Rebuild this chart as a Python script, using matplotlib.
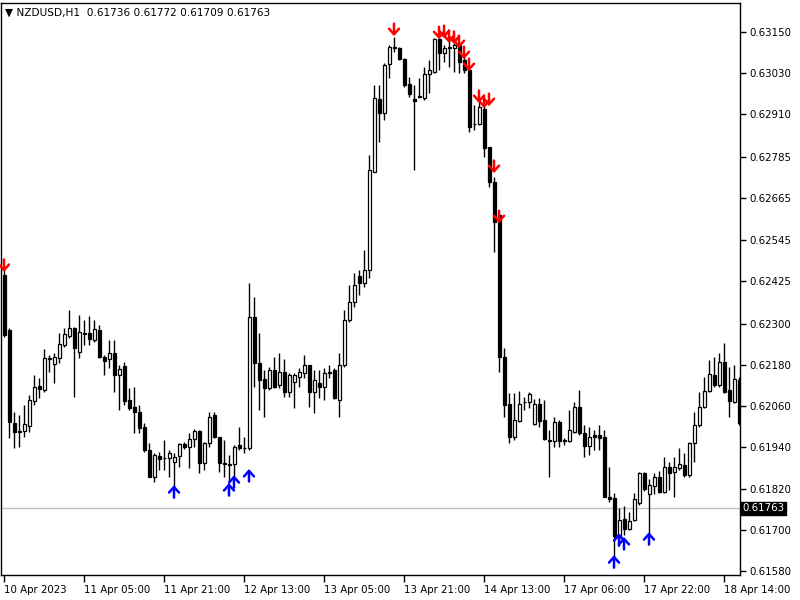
# -*- coding: utf-8 -*-
import matplotlib
matplotlib.use('Agg')
import matplotlib.pyplot as plt
from matplotlib.transforms import blended_transform_factory

# NZDUSD H1 candles
opens = [0.62442, 0.62282, 0.62011, 0.61988, 0.61988, 0.62002, 0.62075, 0.62119, 0.62107, 0.62200,
         0.62183, 0.62200, 0.62238, 0.62264, 0.62288, 0.62218, 0.62273, 0.62273, 0.62253, 0.62282,
         0.62203, 0.62197, 0.62215, 0.62151, 0.62177, 0.62078, 0.62057, 0.62043, 0.61999, 0.61932,
         0.61853, 0.61915, 0.61909, 0.61909, 0.61897, 0.61915, 0.61950, 0.61941, 0.61964, 0.61988,
         0.61894, 0.61953, 0.62034, 0.61970, 0.61894, 0.61891, 0.61891, 0.61947, 0.61938, 0.61938,
         0.62320, 0.62186, 0.62139, 0.62113, 0.62165, 0.62122, 0.62159, 0.62101, 0.62130, 0.62145,
         0.62156, 0.62180, 0.62101, 0.62127, 0.62116, 0.62159, 0.62165, 0.62078, 0.62180, 0.62311,
         0.62363, 0.62439, 0.62419, 0.62457, 0.62742, 0.62955, 0.62914, 0.63057, 0.63106, 0.63103,
         0.63071, 0.62998, 0.62955, 0.62963, 0.62958, 0.63027, 0.63033, 0.63129, 0.63089, 0.63106,
         0.63103, 0.63112, 0.63068, 0.63039, 0.62882, 0.62882, 0.62925, 0.62815, 0.62713, 0.62617,
         0.62203, 0.62066, 0.61970, 0.62017, 0.62072, 0.62072, 0.62008, 0.62066, 0.62020, 0.61961,
         0.61958, 0.62014, 0.61961, 0.61958, 0.61985, 0.62057, 0.61982, 0.61944, 0.61976, 0.61976,
         0.61970, 0.61795, 0.61792, 0.61682, 0.61731, 0.61702, 0.61728, 0.61778, 0.61865, 0.61804,
         0.61827, 0.61853, 0.61810, 0.61883, 0.61868, 0.61880, 0.61889, 0.61859, 0.61953, 0.62005,
         0.62057, 0.62104, 0.62151, 0.62122, 0.62189, 0.62107, 0.62072, 0.62136]
highs = [0.62457, 0.62288, 0.62043, 0.62034, 0.62063, 0.62092, 0.62151, 0.62142, 0.62226, 0.62209,
         0.62215, 0.62273, 0.62288, 0.62340, 0.62290, 0.62325, 0.62311, 0.62322, 0.62311, 0.62296,
         0.62209, 0.62253, 0.62253, 0.62180, 0.62189, 0.62113, 0.62116, 0.62063, 0.62011, 0.61953,
         0.61923, 0.61926, 0.61961, 0.61932, 0.61923, 0.61953, 0.61955, 0.61982, 0.61993, 0.61990,
         0.61955, 0.62043, 0.62043, 0.61970, 0.61961, 0.61918, 0.61947, 0.61999, 0.61970, 0.62419,
         0.62378, 0.62273, 0.62165, 0.62174, 0.62203, 0.62215, 0.62197, 0.62156, 0.62156, 0.62171,
         0.62209, 0.62180, 0.62165, 0.62165, 0.62171, 0.62180, 0.62171, 0.62215, 0.62340, 0.62413,
         0.62448, 0.62457, 0.62515, 0.62792, 0.62995, 0.62995, 0.63060, 0.63112, 0.63135, 0.63106,
         0.63074, 0.63019, 0.62995, 0.63016, 0.63048, 0.63068, 0.63132, 0.63132, 0.63112, 0.63127,
         0.63118, 0.63112, 0.63083, 0.63048, 0.62937, 0.62946, 0.62937, 0.62815, 0.62727, 0.62623,
         0.62229, 0.62098, 0.62098, 0.62104, 0.62087, 0.62101, 0.62081, 0.62084, 0.62078, 0.61990,
         0.62028, 0.62020, 0.61967, 0.62049, 0.62072, 0.62107, 0.62005, 0.61999, 0.61990, 0.62005,
         0.61990, 0.61883, 0.61807, 0.61763, 0.61769, 0.61752, 0.61807, 0.61868, 0.61868, 0.61848,
         0.61865, 0.61871, 0.61912, 0.61897, 0.61912, 0.61938, 0.61923, 0.61955, 0.62043, 0.62101,
         0.62145, 0.62194, 0.62203, 0.62215, 0.62244, 0.62174, 0.62180, 0.62145]
lows = [0.62261, 0.61967, 0.61938, 0.61941, 0.61970, 0.61985, 0.62063, 0.62084, 0.62101, 0.62159,
        0.62127, 0.62186, 0.62232, 0.62258, 0.62087, 0.62200, 0.62238, 0.62238, 0.62247, 0.62200,
        0.62151, 0.62171, 0.62101, 0.62049, 0.62063, 0.62049, 0.61982, 0.61982, 0.61926, 0.61853,
        0.61839, 0.61874, 0.61874, 0.61853, 0.61816, 0.61883, 0.61935, 0.61880, 0.61941, 0.61865,
        0.61874, 0.61941, 0.61967, 0.61868, 0.61853, 0.61836, 0.61853, 0.61932, 0.61923, 0.61932,
        0.62116, 0.62049, 0.62028, 0.62107, 0.62113, 0.62113, 0.62087, 0.62087, 0.62055, 0.62116,
        0.62142, 0.62057, 0.62040, 0.62084, 0.62078, 0.62142, 0.62082, 0.62028, 0.62174, 0.62305,
        0.62349, 0.62384, 0.62407, 0.62433, 0.62741, 0.62829, 0.62893, 0.63016, 0.63092, 0.63068,
        0.62990, 0.62960, 0.62748, 0.62958, 0.62952, 0.62972, 0.63030, 0.63039, 0.63062, 0.63048,
        0.63033, 0.63030, 0.63030, 0.62858, 0.62864, 0.62879, 0.62786, 0.62698, 0.62509, 0.62159,
        0.62028, 0.61953, 0.61961, 0.62014, 0.62049, 0.62055, 0.62005, 0.61999, 0.61961, 0.61853,
        0.61941, 0.61941, 0.61947, 0.61955, 0.61982, 0.61976, 0.61912, 0.61918, 0.61932, 0.61932,
        0.61795, 0.61781, 0.61618, 0.61676, 0.61685, 0.61699, 0.61725, 0.61772, 0.61813, 0.61676,
        0.61804, 0.61807, 0.61807, 0.61816, 0.61795, 0.61874, 0.61853, 0.61853, 0.61897, 0.61999,
        0.62055, 0.62101, 0.62116, 0.62116, 0.62098, 0.62028, 0.62069, 0.62005]
closes = [0.62267, 0.62014, 0.61985, 0.61985, 0.62008, 0.62078, 0.62116, 0.62110, 0.62200, 0.62197,
          0.62203, 0.62241, 0.62270, 0.62288, 0.62229, 0.62276, 0.62270, 0.62255, 0.62285, 0.62203,
          0.62191, 0.62215, 0.62151, 0.62168, 0.62075, 0.62055, 0.62043, 0.61996, 0.61932, 0.61853,
          0.61918, 0.61906, 0.61908, 0.61923, 0.61912, 0.61950, 0.61941, 0.61964, 0.61988, 0.61894,
          0.61953, 0.62028, 0.61970, 0.61894, 0.61891, 0.61890, 0.61941, 0.61938, 0.61937, 0.62320,
          0.62186, 0.62136, 0.62113, 0.62165, 0.62116, 0.62159, 0.62101, 0.62151, 0.62151, 0.62159,
          0.62180, 0.62101, 0.62136, 0.62116, 0.62156, 0.62158, 0.62084, 0.62180, 0.62311, 0.62363,
          0.62413, 0.62419, 0.62457, 0.62748, 0.62958, 0.62914, 0.63054, 0.63106, 0.63103, 0.63071,
          0.62995, 0.62969, 0.62949, 0.62962, 0.63027, 0.63039, 0.63129, 0.63089, 0.63103, 0.63103,
          0.63112, 0.63062, 0.63039, 0.62873, 0.62881, 0.62931, 0.62812, 0.62713, 0.62596, 0.62203,
          0.62063, 0.61970, 0.62020, 0.62066, 0.62071, 0.62095, 0.62066, 0.62017, 0.61964, 0.61960,
          0.62014, 0.61958, 0.61960, 0.61990, 0.62057, 0.61982, 0.61944, 0.61970, 0.61970, 0.61967,
          0.61795, 0.61789, 0.61682, 0.61728, 0.61702, 0.61725, 0.61789, 0.61865, 0.61819, 0.61830,
          0.61853, 0.61810, 0.61883, 0.61865, 0.61883, 0.61891, 0.61859, 0.61953, 0.62005, 0.62057,
          0.62104, 0.62154, 0.62122, 0.62189, 0.62101, 0.62075, 0.62139, 0.62011]

# signal arrows
sell_bars = [0, 78, 87, 88, 89, 90, 91, 92, 93, 95, 96, 97, 98, 99]
sell_prices = [0.62451, 0.63138, 0.63129, 0.63132, 0.63118, 0.63115, 0.63103, 0.63071, 0.63036,
               0.62943, 0.62928, 0.62934, 0.62739, 0.62593]
buy_bars = [34, 45, 46, 49, 122, 123, 124, 129]
buy_prices = [0.61830, 0.61836, 0.61859, 0.61877, 0.61626, 0.61690, 0.61679, 0.61693]

price_ticks = [0.63150, 0.63030, 0.62910, 0.62785, 0.62665, 0.62545, 0.62425,
               0.62300, 0.62180, 0.62060, 0.61940, 0.61820, 0.61700, 0.61580]
date_bars = [0, 16, 32, 48, 64, 80, 96, 112, 128, 144]
date_labels = ['10 Apr 2023', '11 Apr 05:00', '11 Apr 21:00', '12 Apr 13:00', '13 Apr 05:00',
               '13 Apr 21:00', '14 Apr 13:00', '17 Apr 06:00', '17 Apr 22:00', '18 Apr 14:00']
current_price = 0.61763
header = '\u25bc NZDUSD,H1  0.61736 0.61772 0.61709 0.61763'

fig = plt.figure(figsize=(8, 6), dpi=100)
ax = fig.add_axes([1 / 800, 25 / 600, 739 / 800, 572 / 600])
ax.set_xlim(-0.6, 147.2)
ax.set_ylim(0.615682, 0.632345)

n = len(opens)
xs = list(range(n))
ax.vlines(xs, lows, highs, color='black', lw=1, zorder=2)
bottoms = [min(o, c) for o, c in zip(opens, closes)]
heights = [abs(c - o) for o, c in zip(opens, closes)]
faces = ['white' if c >= o else 'black' for o, c in zip(opens, closes)]
ax.bar(xs, heights, bottom=bottoms, width=0.6, color=faces, edgecolor='black', lw=0.9, zorder=3)

# arrows
for b, p in zip(sell_bars, sell_prices):
    ax.annotate('', xy=(b, p), xytext=(0, 9), textcoords='offset points',
                arrowprops=dict(arrowstyle='->,head_length=0.5,head_width=0.45', color='#ff0000',
                                lw=1.8, mutation_scale=8, shrinkA=0, shrinkB=0), zorder=4)
for b, p in zip(buy_bars, buy_prices):
    ax.annotate('', xy=(b, p), xytext=(0, -9), textcoords='offset points',
                arrowprops=dict(arrowstyle='->,head_length=0.5,head_width=0.45', color='#0000ff',
                                lw=1.8, mutation_scale=8, shrinkA=0, shrinkB=0), zorder=4)

# current price line and label
ax.axhline(current_price, color='#c0c0c0', lw=1, zorder=1)
trans = blended_transform_factory(ax.transAxes, ax.transData)
ax.text(1.003, current_price, '%.5f' % current_price, transform=trans, ha='left', va='center',
        fontsize=7.4, color='white', clip_on=False,
        bbox=dict(boxstyle='square,pad=0.15', fc='black', ec='black'))

ax.yaxis.tick_right()
ax.set_yticks(price_ticks)
ax.set_yticklabels(['%.5f' % t for t in price_ticks])
ax.tick_params(axis='y', direction='out', length=4, width=1, pad=3, labelsize=7.4)
ax.set_xticks(date_bars)
ax.set_xticklabels(date_labels, ha='left')
ax.tick_params(axis='x', direction='out', length=5, width=1, pad=2, labelsize=7.4)
for sp in ax.spines.values():
    sp.set_color('black')
    sp.set_linewidth(1)

ax.text(0.005, 0.992, header, transform=ax.transAxes, ha='left', va='top', fontsize=7.6)

fig.savefig('out.png', dpi=100)
